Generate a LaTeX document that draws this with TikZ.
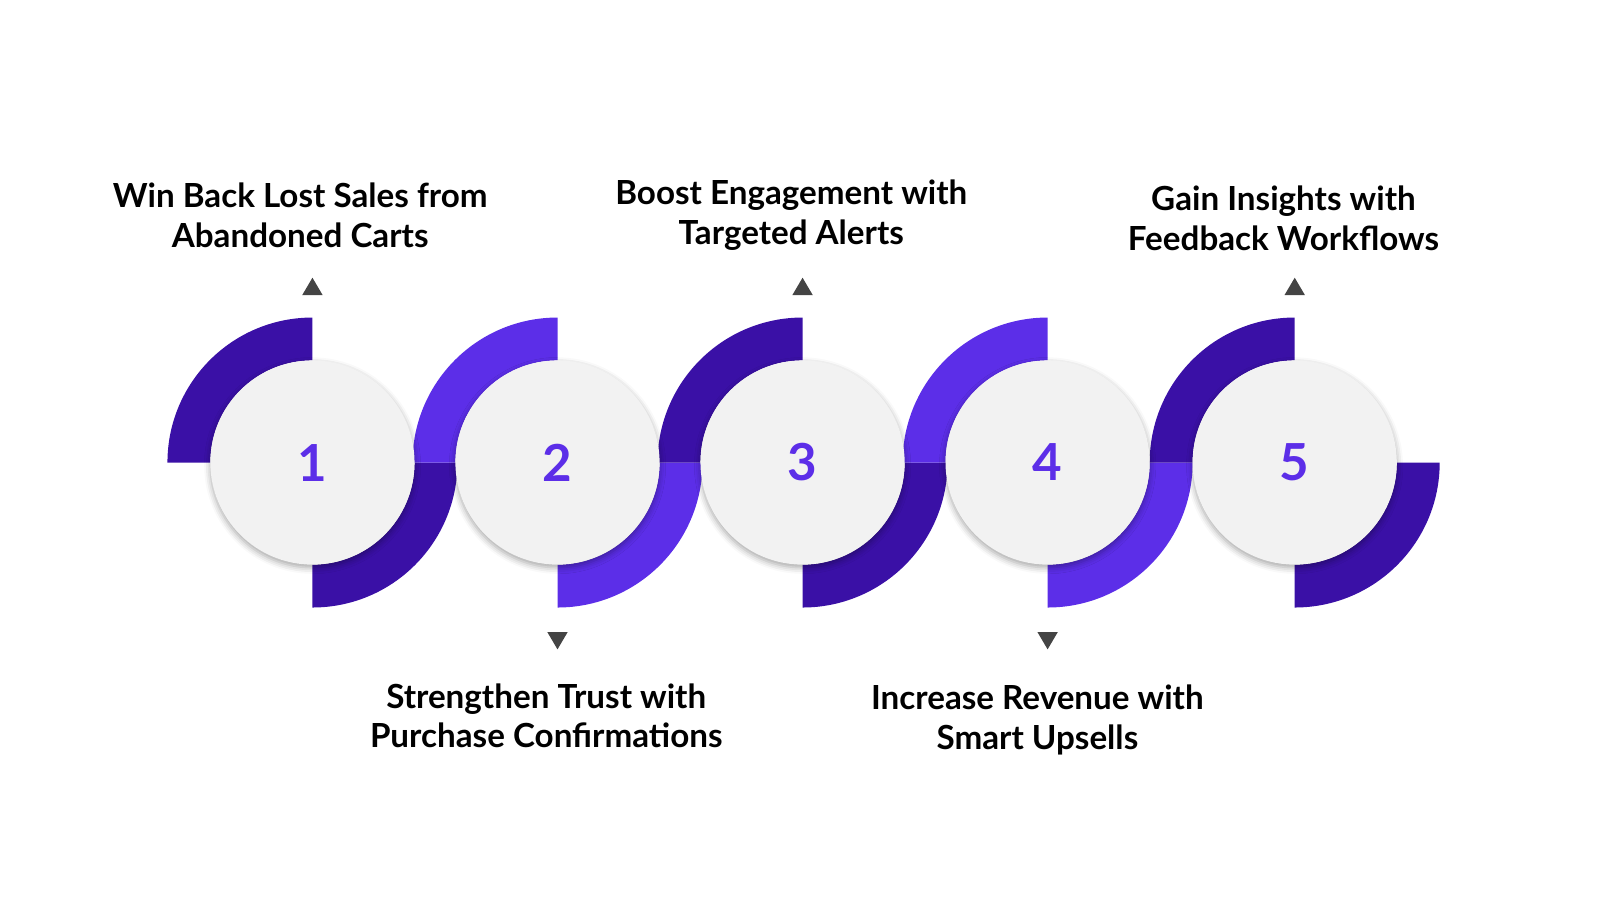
\documentclass[tikz,border=0pt]{standalone}
\usepackage{fontspec}
\setmainfont{Lato}
\usetikzlibrary{shadows.blur}
\definecolor{dk}{HTML}{3A10A6}
\definecolor{lt}{HTML}{5C2EE8}
\definecolor{num}{HTML}{5C2EE8}
\definecolor{tri}{HTML}{444444}
\tikzset{
  lbl/.style={font=\fontsize{32.5}{39}\selectfont\bfseries, align=center, text=black},
  disc/.style={circle, minimum size=200pt, fill=gray!10, blur shadow={shadow xshift=0pt, shadow yshift=-3pt, shadow blur radius=6pt, shadow opacity=35}, font=\fontsize{50}{50}\selectfont\bfseries, text=num},
  tri/.style={fill=tri}
}
\begin{document}
\begin{tikzpicture}[x=1pt,y=1pt]
\useasboundingbox (0,-10) rectangle (1567,872);
\foreach \i/\cx/\c in {1/306/dk,2/546/lt,3/786/dk,4/1026/lt,5/1268/dk}{
  \fill[\c] (\cx,419) ++(180:142) arc (180:90:142) -- ++(0,-42) arc (90:180:100) -- cycle;
  \fill[\c] (\cx,419) ++(0:142) arc (0:-90:142) -- ++(0,42) arc (-90:0:100) -- cycle;
}
\foreach \i/\cx in {1/306,2/546,3/786,4/1026,5/1268}{
  \node[disc] (c\i) at (\cx,419) {\i};
}
\foreach \x in {306,786,1268}{ \fill[tri] (\x-10,583) -- (\x+10,583) -- (\x,600) -- cycle; }
\foreach \x in {546,1026}{ \fill[tri] (\x-10,253) -- (\x+10,253) -- (\x,236) -- cycle; }
\node[lbl] (t1) at (294,661) {Win Back Lost Sales from\\Abandoned Carts};
\node[lbl] (t3) at (775,661) {Boost Engagement with\\Targeted Alerts};
\node[lbl] (t5) at (1257,658) {Gain Insights with\\Feedback Workflows};
\node[lbl] (t2) at (535,171) {Strengthen Trust with\\Purchase Confirmations};
\node[lbl] (t4) at (1016,167) {Increase Revenue with\\Smart Upsells};
\end{tikzpicture}
\end{document}
